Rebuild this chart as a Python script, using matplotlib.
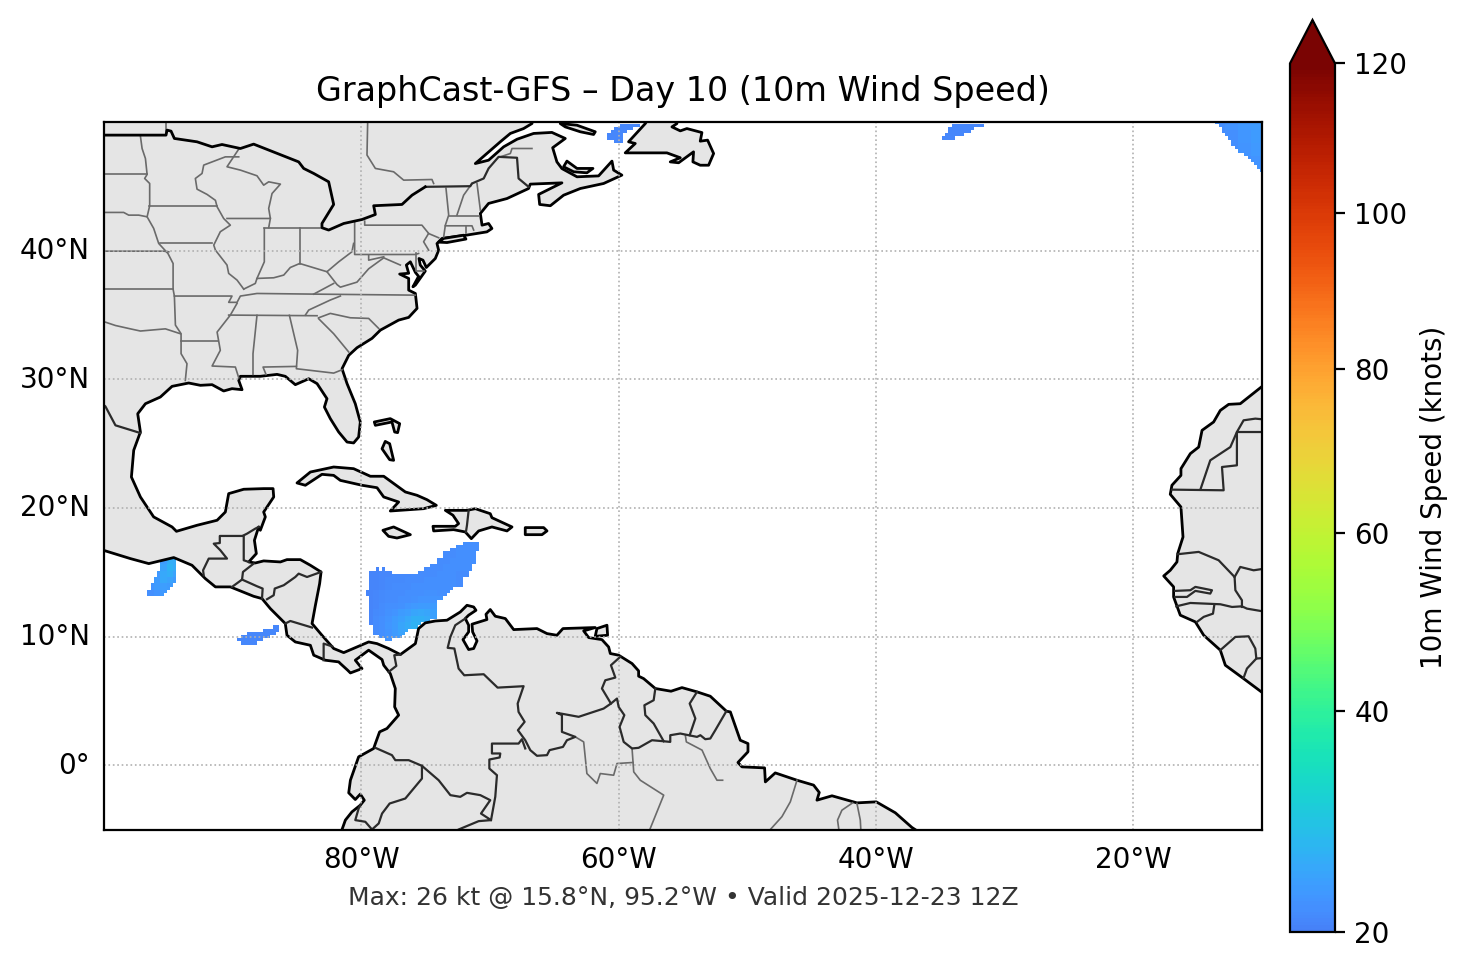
import numpy as np
import matplotlib
matplotlib.use("Agg")
import matplotlib.pyplot as plt
from matplotlib.colors import ListedColormap, PowerNorm
from matplotlib.patches import Polygon
from matplotlib.transforms import ScaledTranslation

# ---- land outlines (lon, lat) ----
americas = [(-101, 51), (-66.5, 51), (-66.74, 49.88), (-67.39, 49.49), (-68.42, 49.11), (-69.2, 48.46), (-71.14, 46.77),
    (-70.11, 47.03), (-68.94, 48.07), (-67.9, 48.66), (-66.61, 49.11), (-65.19, 49.19), (-64.15, 48.72), (-65.13, 48.0),
    (-64.8, 46.9), (-64.41, 46.38), (-63.24, 45.74), (-61.56, 45.81), (-60.52, 46.96), (-60.39, 46.26), (-59.75, 45.87),
    (-61.17, 45.22), (-62.98, 44.83), (-64.28, 44.31), (-65.31, 43.49), (-66.14, 43.59), (-66.22, 44.37), (-64.41, 45.27),
    (-66.87, 45.17), (-67.0, 44.83), (-68.68, 44.05), (-70.11, 43.67), (-70.75, 42.89), (-70.62, 41.98), (-70.11, 42.11),
    (-69.85, 41.72), (-70.24, 41.46), (-71.79, 41.21), (-73.73, 40.95), (-74.12, 40.55), (-73.99, 40.03), (-74.25, 39.39),
    (-74.95, 38.69), (-75.21, 39.26), (-75.52, 39.39), (-75.42, 38.88), (-75.03, 38.41), (-75.8, 37.32), (-75.99, 37.19),
    (-75.55, 38.0), (-75.8, 38.31), (-76.19, 39.13), (-76.5, 38.88), (-76.32, 38.24), (-77.02, 38.18), (-76.32, 37.84),
    (-76.32, 36.93), (-75.8, 36.67), (-75.67, 35.51), (-76.32, 34.81), (-77.1, 34.6), (-78.52, 33.82), (-79.17, 33.18),
    (-80.34, 32.45), (-80.98, 31.86), (-81.5, 30.82), (-81.11, 29.66), (-80.47, 28.1), (-80.08, 26.68), (-80.21, 25.51),
    (-80.6, 25.05), (-81.11, 25.12), (-81.76, 25.9), (-82.41, 26.94), (-82.87, 27.84), (-82.67, 28.49), (-83.44, 29.66),
    (-84.09, 30.04), (-85.13, 29.58), (-85.91, 30.23), (-86.55, 30.38), (-87.85, 30.23), (-89.4, 30.23), (-89.53, 29.91),
    (-89.27, 29.19), (-90.05, 29.27), (-90.7, 29.09), (-91.6, 29.58), (-92.51, 29.53), (-93.42, 29.71), (-94.71, 29.45),
    (-95.62, 28.62), (-96.78, 28.1), (-97.38, 27.32), (-97.17, 25.9), (-97.69, 24.48), (-97.87, 22.4), (-97.17, 20.85),
    (-96.14, 19.3), (-94.71, 18.52), (-94.37, 18.18), (-92.77, 18.65), (-91.21, 19.04), (-90.57, 19.68), (-90.31, 21.11),
    (-89.14, 21.45), (-87.59, 21.5), (-86.86, 21.5), (-86.81, 20.85), (-87.59, 19.68), (-87.46, 19.3), (-87.85, 18.26),
    (-87.98, 18.52), (-88.31, 17.48), (-88.16, 16.45), (-88.75, 15.8), (-88.24, 15.72), (-87.59, 15.88), (-86.29, 15.8),
    (-85.78, 15.98), (-84.74, 15.98), (-83.96, 15.54), (-83.13, 15.02), (-83.24, 14.12), (-83.57, 12.43), (-83.83, 11.01),
    (-83.06, 10.1), (-82.15, 9.07), (-81.37, 8.75), (-80.34, 9.19), (-79.43, 9.58), (-78.78, 9.45), (-77.88, 9.07),
    (-76.97, 8.6), (-75.8, 9.45), (-75.55, 10.62), (-75.03, 11.06), (-74.25, 11.21), (-73.34, 11.27), (-72.31, 11.91),
    (-71.79, 12.43), (-71.27, 12.3), (-71.09, 12.04), (-71.66, 11.66), (-71.92, 11.4), (-71.66, 10.88), (-71.66, 10.36),
    (-72.1, 9.76), (-71.66, 8.99), (-71.27, 9.07), (-71.01, 9.66), (-71.35, 10.36), (-71.4, 10.96), (-70.24, 11.32),
    (-70.31, 11.73), (-69.98, 12.1), (-69.59, 11.58), (-68.81, 11.4), (-68.16, 10.54), (-66.35, 10.62), (-65.57, 10.23),
    (-64.8, 10.1), (-64.33, 10.62), (-61.82, 10.7), (-62.72, 10.44), (-62.33, 9.92), (-61.3, 9.76), (-60.78, 9.19),
    (-60.65, 8.68), (-60.0, 8.55), (-58.96, 7.9), (-58.45, 7.33), (-58.45, 6.92), (-58.06, 6.73), (-57.15, 5.96),
    (-55.93, 5.75), (-55.08, 6.03), (-53.91, 5.7), (-52.88, 5.36), (-51.63, 4.2), (-51.32, 4.14), (-50.55, 1.94),
    (-49.95, 1.68), (-49.95, 1.04), (-50.73, 0.21), (-50.42, -0.13), (-48.66, -0.21), (-48.6, -1.3), (-47.83, -0.6),
    (-46.14, -1.17), (-44.85, -1.55), (-44.41, -2.12), (-44.59, -2.72), (-43.42, -2.38), (-41.48, -2.93), (-39.98, -2.85),
    (-38.5, -3.7), (-37.21, -4.84), (-36.69, -5.18), (-36.0, -6), (-81.8, -6), (-81.5, -5.0), (-81.24, -4.27),
    (-80.73, -3.63), (-80.08, -3.11), (-79.77, -2.72), (-80.08, -2.25), (-80.47, -2.67), (-80.98, -2.15), (-80.85, -1.17),
    (-80.21, 0.65), (-79.04, 1.3), (-78.91, 1.68), (-78.58, 2.59), (-78.01, 2.85), (-77.1, 3.89), (-77.41, 4.53),
    (-77.36, 5.96), (-77.75, 7.12), (-78.26, 7.77), (-78.39, 8.21), (-79.43, 8.94), (-80.47, 8.16), (-79.95, 7.51),
    (-80.85, 7.17), (-81.06, 7.38), (-81.63, 7.9), (-81.76, 8.03), (-82.8, 8.16), (-83.7, 8.55), (-83.96, 9.32),
    (-85.13, 9.58), (-85.78, 10.1), (-85.91, 11.01), (-87.07, 12.17), (-87.72, 12.95), (-88.37, 13.13), (-90.18, 13.86),
    (-91.34, 13.86), (-92.12, 14.5), (-93.16, 15.54), (-94.58, 16.14), (-96.52, 15.67), (-97.95, 16.06), (-101, 17.0)]

west_africa = [(-9, 30.2), (-10.05, 29.4), (-11.69, 28.1), (-12.59, 28.05), (-13.24, 27.58), (-13.76, 26.68), (-14.66, 26.03),
    (-14.92, 24.73), (-15.57, 24.22), (-16.3, 23.05), (-16.3, 22.53), (-17.0, 21.76), (-17.13, 21.06), (-16.3, 20.07),
    (-16.14, 17.74), (-16.55, 16.45), (-16.61, 15.8), (-17.13, 15.15), (-17.64, 14.71), (-16.87, 13.86), (-16.87, 13.08),
    (-16.35, 11.66), (-15.18, 11.14), (-14.53, 10.1), (-13.24, 8.94), (-12.85, 7.77), (-11.43, 6.73), (-10.05, 5.7), (-9, 4.9)]

cuba = [(-85.0, 21.94), (-83.96, 22.79), (-82.15, 23.18), (-80.6, 23.05), (-79.3, 22.46), (-78.26, 22.46), (-76.58, 21.24),
    (-75.67, 20.98), (-74.9, 20.64), (-74.17, 20.2), (-75.16, 19.94), (-77.75, 19.76), (-77.1, 20.46), (-78.26, 20.85),
    (-78.78, 21.57), (-79.95, 21.76), (-81.63, 22.14), (-82.15, 22.53), (-83.06, 22.61), (-84.35, 21.76)]
hispaniola = [(-73.47, 19.81), (-71.79, 19.81), (-71.14, 19.94), (-69.98, 19.55), (-69.85, 19.24), (-68.29, 18.52), (-68.68, 18.21),
    (-69.85, 18.52), (-70.88, 18.21), (-71.45, 17.61), (-71.92, 18.13), (-72.83, 18.31), (-74.38, 18.21), (-74.43, 18.57),
    (-72.7, 18.57), (-72.44, 18.78), (-72.88, 19.43)]
jamaica = [(-78.32, 18.26), (-77.49, 18.52), (-76.19, 17.92), (-77.23, 17.66), (-77.88, 17.79)]
puerto_rico = [(-67.26, 18.47), (-65.83, 18.47), (-65.57, 18.21), (-65.96, 17.92), (-67.26, 17.92)]
bahamas_n = [(-78.99, 26.68), (-77.75, 26.94), (-77.02, 26.55), (-77.18, 25.85), (-77.41, 25.9), (-77.62, 26.68), (-78.91, 26.42)]
bahamas_s = [(-78.14, 25.17), (-77.8, 24.99), (-77.49, 23.7), (-77.8, 23.75), (-78.39, 24.6)]
trinidad = [(-61.69, 10.62), (-60.91, 10.88), (-60.86, 10.1), (-61.82, 10.02)]
long_island = [(-73.6, 40.95), (-72.05, 41.2), (-71.87, 40.9), (-73.34, 40.63), (-73.99, 40.66)]
newfoundland = [(-57.67, 50.3), (-57.93, 49.88), (-59.23, 48.46), (-58.71, 48.33), (-59.49, 47.6), (-56.25, 47.6), (-55.21, 47.22),
    (-55.99, 46.9), (-55.34, 46.83), (-54.18, 47.68), (-54.23, 46.9), (-53.66, 46.64), (-53.01, 46.64), (-52.62, 47.55),
    (-53.09, 48.59), (-53.66, 48.51), (-53.53, 49.18), (-54.7, 49.49), (-55.21, 49.31), (-55.86, 49.62), (-55.47, 49.88), (-55.73, 50.3)]
anticosti = [(-64.54, 49.88), (-63.24, 49.75), (-61.82, 49.24), (-61.95, 49.03), (-62.98, 49.24), (-64.15, 49.62)]
pei = [(-64.02, 46.96), (-64.28, 46.52), (-63.5, 46.13), (-62.47, 46.05), (-62.0, 46.39), (-63.24, 46.39)]
islands = [cuba, hispaniola, jamaica, puerto_rico, bahamas_n, bahamas_s, trinidad, long_island, newfoundland, anticosti, pei]

great_lakes = [(-101, 48.98), (-95.18, 48.98), (-95.1, 49.37), (-94.79, 49.29), (-94.53, 48.72), (-92.77, 48.46), (-91.6, 48.07),
    (-90.83, 48.25), (-89.4, 47.94), (-88.37, 48.28), (-84.87, 46.9), (-84.48, 46.39), (-83.7, 46.0), (-82.54, 45.35),
    (-82.15, 43.59), (-83.06, 42.11), (-83.06, 41.78), (-82.54, 41.6), (-81.37, 42.11), (-79.95, 42.42), (-78.91, 42.81),
    (-79.04, 43.49), (-76.84, 43.59), (-76.06, 44.31), (-75.03, 44.96)]

# ---- country borders ----
country_borders = [
    [(-75.03, 44.96), (-71.53, 45.01), (-71.4, 45.22), (-70.49, 45.61), (-70.11, 46.39), (-69.33, 47.29), (-67.9, 47.22), (-67.78, 45.61), (-67.0, 44.96)],
    [(-101, 28.8), (-99.89, 27.89), (-99.11, 26.42), (-97.17, 25.82)],
    [(-92.25, 14.76), (-92.3, 15.15), (-91.86, 16.06), (-90.44, 16.06), (-90.96, 16.71), (-91.47, 17.22), (-91.0, 17.27), (-91.0, 17.82), (-89.14, 17.82), (-89.14, 15.93), (-88.75, 15.8)],
    [(-89.14, 17.87), (-88.88, 18.0), (-88.24, 18.39), (-87.98, 18.52)],
    [(-88.37, 15.67), (-89.2, 15.02), (-89.27, 14.43), (-90.05, 13.86)],
    [(-89.27, 14.43), (-88.11, 13.91), (-87.67, 13.73), (-87.72, 12.95)],
    [(-87.33, 12.9), (-86.81, 13.21), (-86.73, 13.73), (-86.03, 13.99), (-85.13, 14.63), (-84.87, 14.89), (-84.22, 14.63), (-83.13, 15.02)],
    [(-85.91, 11.01), (-85.52, 11.21), (-83.83, 10.7)],
    [(-82.93, 8.16), (-82.93, 9.45), (-82.28, 9.24)],
    [(-77.88, 7.25), (-77.28, 7.72), (-77.44, 8.55), (-76.97, 8.6)],
    [(-71.66, 19.81), (-71.79, 18.65), (-71.87, 18.13)],
    [(-71.92, 11.4), (-72.7, 10.88), (-73.08, 9.97), (-73.29, 9.12), (-72.77, 9.07), (-72.44, 7.51), (-72.0, 6.99), (-70.49, 7.07), (-69.41, 6.03), (-67.39, 6.14),
     (-67.85, 4.79), (-67.78, 4.14), (-67.31, 3.37), (-67.83, 2.72), (-67.26, 1.94), (-66.87, 1.17), (-66.35, 0.73), (-65.57, 0.78), (-65.37, 1.17), (-64.33, 1.42),
     (-64.02, 1.94), (-63.37, 2.2), (-64.41, 2.59), (-64.41, 3.89), (-64.8, 4.07), (-63.11, 3.76), (-61.17, 4.4), (-60.6, 4.79), (-61.3, 5.96), (-61.04, 6.6), (-60.26, 6.81), (-60.6, 7.77), (-59.88, 8.42)],
    [(-60.6, 4.79), (-60.13, 5.18), (-60.0, 4.53), (-59.56, 3.89), (-59.93, 2.98), (-59.61, 1.81), (-58.96, 1.3), (-58.45, 1.35), (-57.41, 1.94), (-56.5, 1.86), (-55.99, 1.81),
     (-55.99, 2.33), (-55.21, 2.46), (-54.56, 2.33), (-53.91, 2.2), (-53.65, 2.33), (-53.27, 2.02), (-52.88, 2.07), (-52.49, 2.72), (-51.63, 4.2)],
    [(-57.15, 5.96), (-57.28, 5.05), (-58.0, 4.66), (-57.93, 3.89), (-57.28, 3.24), (-56.5, 1.86)],
    [(-53.91, 5.7), (-54.48, 4.79), (-54.04, 3.63), (-54.48, 2.33)],
    [(-78.91, 1.35), (-77.62, 0.78), (-77.36, 0.39), (-76.32, 0.39), (-75.29, -0.05), (-73.99, -1.17), (-73.08, -2.33), (-72.31, -2.46), (-71.79, -2.15), (-70.75, -2.33),
     (-69.98, -2.72), (-70.7, -3.76), (-69.92, -4.27), (-70.88, -4.35), (-72.44, -5.0), (-72.8, -5.2)],
    [(-67.26, 1.3), (-67.52, 2.02), (-67.78, 1.68), (-69.85, 1.68), (-69.85, 0.91), (-69.2, 0.91), (-69.25, 0.6), (-70.05, 0.44), (-70.05, -0.26), (-69.46, -0.78), (-69.59, -2.46), (-69.92, -4.27)],
    [(-75.29, -0.05), (-75.29, -1.04), (-76.58, -2.59), (-77.8, -2.98), (-78.39, -3.76), (-78.65, -4.53), (-79.17, -5.0), (-79.69, -4.4), (-80.47, -4.27), (-80.21, -3.37), (-80.08, -3.11)],
    [(-17.0, 21.42), (-12.98, 21.37), (-13.11, 23.18), (-11.95, 23.31), (-11.95, 25.9), (-9, 25.9)],
    [(-14.79, 21.42), (-14.02, 23.7), (-12.46, 24.73), (-11.95, 25.9), (-11.43, 26.81), (-10.52, 26.94), (-9, 26.8)],
    [(-16.55, 16.4), (-14.92, 16.58), (-13.37, 15.93), (-12.13, 14.63), (-12.07, 13.6), (-11.56, 12.82), (-11.56, 12.3)],
    [(-12.13, 14.63), (-11.69, 15.41), (-10.65, 15.15), (-9, 15.4)],
    [(-16.74, 13.55), (-15.57, 13.6), (-15.18, 13.86), (-13.89, 13.6), (-14.02, 13.34), (-15.18, 13.55), (-15.83, 13.08), (-16.74, 13.08)],
    [(-16.66, 12.35), (-15.57, 12.61), (-13.24, 12.51), (-12.33, 12.3), (-11.56, 12.35), (-11.17, 12.17), (-9, 11.8)],
    [(-13.71, 12.43), (-13.81, 11.78), (-14.53, 11.53), (-15.05, 11.14)],
    [(-13.24, 8.94), (-12.07, 9.97), (-11.04, 10.02), (-10.52, 9.07), (-10.44, 8.29), (-9, 8.4)],
    [(-10.44, 8.29), (-11.17, 7.51), (-11.43, 6.79)],
]

# ---- state and province lines ----
state_lines = [
    [(-95.18, 50.5), (-95.18, 48.98)],
    [(-97.17, 48.9), (-97.04, 47.94), (-96.78, 47.16), (-96.65, 45.92), (-96.84, 45.61), (-96.45, 45.22), (-96.45, 43.49), (-96.65, 42.63), (-96.14, 41.73), (-95.75, 40.56),
     (-95.03, 39.78), (-94.63, 39.0), (-94.63, 37.0), (-94.53, 36.47), (-94.45, 34.21), (-94.01, 33.54), (-94.01, 31.99), (-93.55, 31.21), (-93.68, 29.91)],
    [(-101, 45.92), (-96.65, 45.92)],
    [(-101, 42.97), (-98.47, 42.97), (-98.08, 42.76), (-97.3, 42.76), (-96.65, 42.63)],
    [(-96.52, 43.46), (-91.21, 43.46)],
    [(-95.67, 40.56), (-91.6, 40.56)],
    [(-101, 39.96), (-95.36, 39.96), (-94.97, 39.91)],
    [(-101, 37.01), (-94.63, 37.01)],
    [(-94.53, 36.47), (-90.05, 36.47), (-90.31, 35.98), (-89.66, 35.98), (-89.4, 36.47), (-88.11, 36.67), (-83.7, 36.62), (-75.8, 36.54)],
    [(-89.14, 37.01), (-89.66, 37.71), (-90.31, 38.23), (-90.44, 38.88), (-91.34, 40.04), (-91.47, 40.43), (-90.96, 41.47), (-90.18, 41.98), (-90.7, 42.5), (-91.21, 43.41),
     (-91.34, 43.91), (-91.99, 44.37), (-92.77, 44.78), (-92.9, 45.61), (-92.38, 46.0), (-92.25, 46.65), (-90.57, 47.29), (-89.53, 47.29)],
    [(-89.53, 47.89), (-90.44, 46.52), (-89.4, 46.26), (-88.11, 45.82), (-87.59, 45.09), (-87.2, 45.35), (-86.29, 45.17), (-86.94, 44.44), (-87.2, 43.28), (-87.07, 42.5), (-90.44, 42.5)],
    [(-87.07, 42.5), (-87.2, 41.78)],
    [(-87.54, 41.73), (-83.19, 41.73)],
    [(-87.54, 41.73), (-87.54, 39.13), (-88.11, 37.84)],
    [(-84.79, 41.73), (-84.79, 39.0)],
    [(-89.14, 37.01), (-88.24, 37.45), (-88.11, 37.84), (-86.81, 37.89), (-86.03, 38.1), (-85.52, 38.69), (-84.79, 39.0), (-83.7, 38.67), (-82.67, 38.36), (-81.76, 39.13), (-80.73, 39.91), (-80.6, 40.56)],
    [(-80.52, 42.24), (-80.52, 39.7), (-75.8, 39.7), (-75.55, 39.78)],
    [(-82.67, 38.36), (-81.89, 37.36), (-81.63, 37.16), (-80.34, 37.55), (-79.43, 38.59), (-78.26, 39.44), (-76.97, 38.88)],
    [(-79.43, 39.65), (-79.43, 39.26), (-78.26, 39.52)],
    [(-79.74, 42.29), (-79.74, 41.98), (-75.29, 41.98), (-74.77, 41.34), (-75.16, 40.69), (-74.77, 40.04)],
    [(-83.7, 36.62), (-82.15, 37.45)],
    [(-90.31, 34.99), (-83.44, 34.94)],
    [(-89.66, 35.9), (-90.18, 34.99), (-91.21, 33.67), (-90.96, 32.25), (-91.6, 31.03), (-89.79, 30.95), (-89.53, 30.12)],
    [(-94.01, 32.97), (-91.16, 32.97)],
    [(-84.35, 34.99), (-84.09, 35.38), (-82.41, 36.16), (-81.63, 36.47)],
    [(-83.32, 34.78), (-82.41, 35.12), (-80.85, 34.78), (-79.43, 34.73), (-78.65, 33.95)],
    [(-83.32, 34.71), (-82.15, 33.54), (-80.98, 32.12)],
    [(-88.11, 34.97), (-88.42, 31.99), (-88.42, 30.38)],
    [(-85.59, 34.97), (-84.95, 32.25), (-85.05, 30.82), (-82.15, 30.48), (-81.5, 30.74)],
    [(-87.41, 30.38), (-87.64, 30.95), (-85.05, 31.0)],
    [(-101, 34.6), (-99.89, 34.44), (-99.11, 34.18), (-97.95, 33.92), (-97.17, 33.75), (-95.23, 33.92), (-94.06, 33.54)],
    [(-79.51, 50.5), (-79.51, 49.88), (-79.56, 47.43), (-78.91, 46.39), (-77.49, 46.13), (-76.71, 45.48), (-74.51, 45.53), (-74.38, 45.22)],
    [(-73.42, 44.84), (-73.21, 42.76), (-73.47, 41.98), (-73.6, 41.07)],
    [(-71.4, 45.22), (-72.05, 44.31), (-72.57, 42.76)],
    [(-71.01, 45.22), (-70.75, 43.15)],
    [(-73.21, 42.71), (-70.88, 42.71)],
    [(-73.47, 41.93), (-71.4, 41.93), (-71.27, 41.6)],
    [(-71.84, 41.93), (-71.84, 41.34)],
    [(-74.77, 41.33), (-73.99, 41.0)],
    [(-75.73, 39.78), (-75.73, 38.41), (-75.11, 38.41)],
    [(-69.2, 47.29), (-68.42, 47.55), (-68.29, 47.94), (-66.74, 47.94)],
    # inner Brazil and Guyana lines are thin grey too
    [(-58.96, 1.3), (-58.83, -0.52), (-58.32, -1.17), (-56.5, -2.33), (-57.7, -5.3)],
    [(-63.37, 2.2), (-62.72, 1.81), (-62.47, -0.65), (-61.69, -1.42), (-61.43, -0.65), (-60.39, -0.78), (-60.13, 0.13), (-58.89, 0.21)],
    [(-54.82, 2.33), (-54.74, 1.81), (-53.52, 1.17), (-52.88, -0.26), (-52.36, -1.17), (-51.92, -1.17)],
    [(-46.14, -1.17), (-46.66, -2.85), (-47.31, -4.0), (-48.3, -5.1)],
    [(-41.82, -2.93), (-42.65, -3.5), (-42.99, -4.27), (-42.86, -5.2)],
    [(-41.48, -2.98), (-41.22, -4.27), (-41.17, -5.2)],
]

# ---- wind cells: one row per 0.25 deg band (lat of top edge, west, east) ----
carib_lat = [17.375, 17.125, 16.875, 16.625, 16.375, 16.125, 15.875, 15.625, 15.375, 15.375, 15.375, 15.125, 15.125,
    14.875, 14.625, 14.375, 14.125, 13.875, 13.625, 13.375, 13.125, 12.875, 12.625, 12.375, 12.125, 11.875, 11.625,
    11.375, 11.125, 10.875, 10.625, 10.375, 10.125, 9.875]
carib_west = [-72.125, -72.625, -73.125, -73.625, -73.625, -74.125, -74.125, -74.625, -75.125, -78.875, -78.375, -79.375, -75.625,
    -79.375, -79.375, -79.375, -79.375, -79.375, -79.625, -79.625, -79.375, -79.375, -79.375, -79.375, -79.375, -79.375, -79.375,
    -79.375, -79.375, -79.125, -79.125, -79.125, -78.625, -78.125]
carib_east = [-70.875, -70.875, -70.875, -71.125, -71.125, -71.125, -71.125, -71.375, -71.375, -78.625, -78.125, -77.625, -71.625,
    -71.625, -72.125, -72.125, -72.125, -72.875, -73.125, -73.375, -73.625, -74.125, -74.125, -74.125, -74.125, -74.125, -74.125,
    -74.625, -75.375, -75.625, -76.375, -76.625, -76.875, -77.625]
carib_lons = [-79.5, -79, -78.5, -78, -77.5, -77, -76.5, -76, -75.5, -75, -74.5, -74, -73.5, -73, -72.5, -72, -71.5, -71]
carib_lats = [17, 16.5, 16, 15.5, 15, 14.5, 14, 13.5, 13, 12.5, 12, 11.5, 11, 10.5, 10, 9.5]
carib_speed = [
    [20.5, 20.5, 20.6, 20.6, 20.7, 20.7, 20.8, 20.8, 20.8, 20.9, 21.0, 21.0, 21.2, 21.2, 21.3, 21.4, 21.5, 21.5],
    [20.5, 20.5, 20.6, 20.6, 20.7, 20.7, 20.8, 20.8, 20.8, 20.9, 21.0, 21.0, 21.2, 21.2, 21.3, 21.4, 21.5, 21.5],
    [20.5, 20.5, 20.6, 20.6, 20.7, 20.7, 20.8, 20.8, 20.9, 21.0, 21.1, 21.1, 21.2, 21.3, 21.4, 21.4, 21.4, 21.4],
    [20.5, 20.5, 20.6, 20.6, 20.7, 20.7, 20.8, 20.8, 20.9, 21.0, 21.1, 21.2, 21.3, 21.3, 21.3, 21.3, 21.3, 21.3],
    [20.4, 20.5, 20.6, 20.7, 20.8, 20.8, 20.9, 21.0, 21.0, 21.1, 21.2, 21.3, 21.3, 21.3, 21.2, 21.2, 21.2, 21.2],
    [20.4, 20.5, 20.6, 20.8, 20.9, 20.9, 21.0, 21.1, 21.2, 21.3, 21.3, 21.4, 21.4, 21.3, 21.2, 21.2, 21.2, 21.2],
    [20.4, 20.5, 20.7, 20.9, 21.0, 21.1, 21.2, 21.3, 21.4, 21.5, 21.5, 21.5, 21.4, 21.3, 21.2, 21.2, 21.2, 21.2],
    [20.4, 20.6, 20.8, 21.0, 21.1, 21.2, 21.4, 21.5, 21.6, 21.7, 21.7, 21.6, 21.4, 21.3, 21.2, 21.2, 21.2, 21.2],
    [20.5, 20.6, 20.8, 21.0, 21.2, 21.4, 21.6, 21.8, 22.0, 22.2, 22.2, 22.0, 21.4, 21.3, 21.2, 21.2, 21.2, 21.2],
    [20.5, 20.7, 21.0, 21.3, 21.6, 21.9, 22.3, 22.7, 23.0, 23.1, 22.9, 22.3, 21.4, 21.3, 21.2, 21.2, 21.2, 21.2],
    [20.5, 20.8, 21.2, 21.7, 22.2, 22.8, 23.5, 24.2, 24.5, 24.4, 23.8, 22.6, 21.4, 21.3, 21.2, 21.2, 21.2, 21.2],
    [20.5, 21.0, 21.5, 22.1, 22.9, 23.8, 24.8, 25.7, 25.8, 25.0, 23.8, 22.3, 21.4, 21.3, 21.2, 21.2, 21.2, 21.2],
    [20.5, 21.0, 21.5, 22.3, 23.2, 24.2, 25.2, 26.0, 25.6, 24.2, 22.6, 22.0, 21.4, 21.3, 21.2, 21.2, 21.2, 21.2],
    [20.6, 21.0, 21.6, 22.2, 23.0, 24.0, 24.5, 24.5, 24.0, 23.0, 22.0, 22.0, 21.4, 21.3, 21.2, 21.2, 21.2, 21.2],
    [20.8, 21.0, 21.5, 22.0, 22.5, 22.8, 23.0, 23.0, 23.0, 23.0, 22.0, 22.0, 21.4, 21.3, 21.2, 21.2, 21.2, 21.2],
    [21.0, 21.0, 21.3, 21.5, 21.6, 21.6, 21.6, 21.6, 21.6, 21.6, 21.6, 21.6, 21.4, 21.3, 21.2, 21.2, 21.2, 21.2],
]

teh_lat = [16.375, 16.125, 15.875, 15.625, 15.375, 15.125, 14.875, 14.625, 14.375, 14.125, 13.875, 13.625, 13.375]
teh_west = [-95.125, -95.375, -95.625, -95.625, -95.625, -95.875, -95.875, -96.125, -96.125, -96.375, -96.375, -96.625, -96.625]
teh_east = [-94.625, -94.375, -94.375, -94.375, -94.375, -94.375, -94.375, -94.375, -94.375, -94.625, -94.875, -95.125, -95.375]
teh_lons = [-97, -96.5, -96, -95.5, -95, -94.5]
teh_lats = [16.5, 16, 15.5, 15, 14.5, 14, 13.5, 13]
teh_speed = [
    [21.0, 21.0, 21.0, 23.0, 24.0, 24.0],
    [21.0, 21.0, 21.5, 23.0, 25.5, 25.0],
    [21.0, 21.0, 22.0, 24.0, 26.0, 25.0],
    [21.0, 21.5, 22.5, 24.5, 25.5, 24.0],
    [21.0, 21.5, 23.0, 24.5, 24.0, 23.0],
    [21.0, 22.0, 23.0, 23.5, 23.0, 22.0],
    [21.0, 21.5, 22.0, 22.5, 22.0, 21.0],
    [20.8, 21.0, 21.0, 21.0, 21.0, 21.0],
]

pap_lat = [10.875, 10.625, 10.375, 10.125, 9.875, 9.625]
pap_west = [-86.875, -87.625, -88.875, -89.375, -89.625, -89.375]
pap_east = [-86.375, -86.375, -86.625, -87.125, -87.625, -88.125]

gulf_lat = [49.875, 49.625, 49.375, 49.125, 48.875, 48.625]
gulf_west = [-59.875, -60.375, -60.625, -60.875, -60.875, -60.375]
gulf_east = [-58.375, -58.875, -59.375, -59.625, -59.625, -59.625]

mid_lat = [49.875, 49.625, 49.375, 49.125, 48.875]
mid_west = [-34.125, -34.375, -34.375, -34.625, -34.875]
mid_east = [-31.625, -32.375, -32.625, -33.125, -33.875]

ne_lat = [50.125, 49.875, 49.625, 49.375, 49.125, 48.875, 48.625, 48.375, 48.125, 47.875, 47.625, 47.375, 47.125, 46.875, 46.625, 46.375]
ne_west = [-13.625, -13.375, -13.125, -13.125, -12.875, -12.625, -12.375, -12.375, -12.125, -11.875, -11.375, -11.125, -10.875, -10.625, -10.375, -10.125]
ne_east = [-9.875] * 16
ne_lons = [-13.5, -12.5, -11.5, -10.5]
ne_lats = [50, 49, 48, 47]
ne_speed = [
    [21.3, 22.0, 22.5, 23.0],
    [21.0, 21.6, 22.3, 22.8],
    [21.0, 21.3, 22.0, 22.5],
    [21.0, 21.0, 21.6, 22.2],
]

lon_ticks = [-80, -60, -40, -20]
lon_labels = ["80°W", "60°W", "40°W", "20°W"]
lat_ticks = [0, 10, 20, 30, 40]
lat_labels = ["0°", "10°N", "20°N", "30°N", "40°N"]
cbar_ticks = [20, 40, 60, 80, 100, 120]

W, H = 1466, 969
fig = plt.figure(figsize=(W / 200, H / 200), dpi=200)
ax = fig.add_axes([104 / W, 1 - 829.5 / H, (1262 - 104) / W, (829.5 - 122) / H])
# box includes the extend triangle
cax = fig.add_axes([1290 / W, 1 - 932 / H, (1335 - 1290) / W, (932 - 20) / H])

# turbo without its dark purple end
turbo = plt.get_cmap("turbo")
cmap = ListedColormap(turbo(np.linspace(0.16, 1.0, 256)))
norm = PowerNorm(gamma=0.85, vmin=20, vmax=120)


def draw_cells(lats, wests, easts, speed, tab_lons=None, tab_lats=None):
    lon_edges = np.arange(min(wests), max(easts) + 0.125, 0.25)
    lat_edges = np.arange(min(lats) - 0.25, max(lats) + 0.125, 0.25)
    z = np.full((len(lat_edges) - 1, len(lon_edges) - 1), np.nan)
    for top, w, e in zip(lats, wests, easts):
        j = int(round((top - 0.25 - lat_edges[0]) / 0.25))
        for i, lon in enumerate(lon_edges[:-1]):
            if lon >= w - 0.01 and lon + 0.25 <= e + 0.01:
                if tab_lons is None:
                    z[j, i] = speed
                else:
                    ii = np.abs(np.array(tab_lons) - (lon + 0.125)).argmin()
                    jj = np.abs(np.array(tab_lats) - (top - 0.125)).argmin()
                    z[j, i] = speed[jj][ii]
    return ax.pcolormesh(lon_edges, lat_edges, np.ma.masked_invalid(z), cmap=cmap, norm=norm, zorder=1)


mesh = draw_cells(carib_lat, carib_west, carib_east, carib_speed, carib_lons, carib_lats)
draw_cells(teh_lat, teh_west, teh_east, teh_speed, teh_lons, teh_lats)
draw_cells(pap_lat, pap_west, pap_east, 20.7)
draw_cells(gulf_lat, gulf_west, gulf_east, 20.6)
draw_cells(mid_lat, mid_west, mid_east, 20.7)
draw_cells(ne_lat, ne_west, ne_east, ne_speed, ne_lons, ne_lats)

land = "#e5e5e5"
for shape in [americas, west_africa] + islands:
    ax.add_patch(Polygon(shape, closed=True, facecolor=land, edgecolor="black", linewidth=1.0, zorder=2, joinstyle="round"))

for line in state_lines:
    xs, ys = zip(*line)
    ax.plot(xs, ys, color="#6a6a6a", lw=0.6, zorder=2.5)
for line in country_borders:
    xs, ys = zip(*line)
    ax.plot(xs, ys, color="#2b2b2b", lw=0.8, zorder=2.6)
xs, ys = zip(*great_lakes)
ax.plot(xs, ys, color="black", lw=1.0, zorder=2.7)

ax.set_xlim(-100, -10)
ax.set_ylim(-5, 50)
ax.set_xticks(lon_ticks)
ax.set_xticklabels(lon_labels)
ax.set_yticks(lat_ticks)
ax.set_yticklabels(lat_labels)
ax.tick_params(length=0, labelsize=10)
ax.tick_params(axis="x", pad=6)
ax.tick_params(axis="y", pad=5)
# lat labels sit a little above their grid lines
up = ScaledTranslation(0, 2.5 / 200, fig.dpi_scale_trans)
for lab in ax.get_yticklabels():
    lab.set_transform(lab.get_transform() + up)
ax.grid(True, color="#b0b0b0", linestyle=":", linewidth=0.6, zorder=3)
ax.set_axisbelow(False)
for s in ax.spines.values():
    s.set_zorder(5)

fig.text(682.5 / W, 1 - 91 / H, "GraphCast-GFS – Day 10 (10m Wind Speed)", ha="center", va="center", fontsize=12)
fig.text(683 / W, 1 - 898 / H, "Max: 26 kt @ 15.8°N, 95.2°W • Valid 2025-12-23 12Z", ha="center", va="center", fontsize=9, color="#333333")

cb = fig.colorbar(mesh, cax=cax, extend="max", ticks=cbar_ticks)
cb.set_ticklabels([str(t) for t in cbar_ticks])
cb.ax.tick_params(labelsize=10)
cb.set_label("10m Wind Speed (knots)", fontsize=10, labelpad=4.5)

fig.savefig("out.png", dpi=200)
